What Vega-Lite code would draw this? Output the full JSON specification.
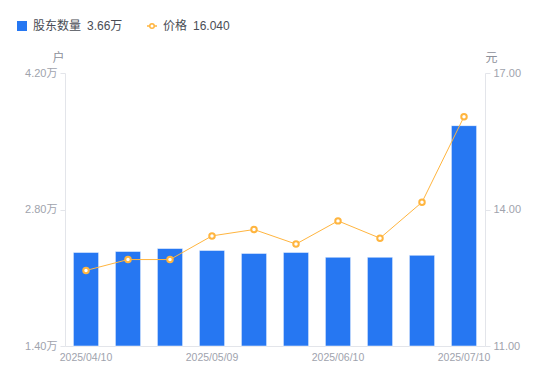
{
  "$schema": "https://vega.github.io/schema/vega-lite/v6.json",
  "width": 420,
  "height": 273,
  "autosize": {"type": "none"},
  "padding": {"left": 65, "top": 73, "right": 65, "bottom": 35},
  "background": "white",
  "config": {
    "font": "Liberation Sans, Noto Sans CJK SC",
    "view": {"stroke": null},
    "axis": {
      "grid": false,
      "domainColor": "#e3e5ea",
      "tickColor": "#e3e5ea",
      "labelColor": "#a0a3ad",
      "labelFontSize": 11,
      "titleColor": "#8d909a",
      "titleFontWeight": "normal",
      "titleFontSize": 12
    },
    "legend": {
      "orient": "none",
      "direction": "horizontal",
      "labelFontSize": 12,
      "labelColor": "#4a4d55",
      "labelOffset": 5,
      "padding": 0
    }
  },
  "data": {
    "values": [
      {"date": "2025/04/10", "holders": 2.36, "price": 12.66},
      {"date": "2025/04/18", "holders": 2.37, "price": 12.90},
      {"date": "2025/04/30", "holders": 2.40, "price": 12.90},
      {"date": "2025/05/09", "holders": 2.38, "price": 13.42},
      {"date": "2025/05/20", "holders": 2.35, "price": 13.56},
      {"date": "2025/05/30", "holders": 2.36, "price": 13.24},
      {"date": "2025/06/10", "holders": 2.31, "price": 13.75},
      {"date": "2025/06/20", "holders": 2.31, "price": 13.37},
      {"date": "2025/06/30", "holders": 2.33, "price": 14.16},
      {"date": "2025/07/10", "holders": 3.66, "price": 16.04}
    ]
  },
  "encoding": {
    "x": {
      "field": "date",
      "type": "ordinal",
      "scale": {"paddingInner": 0.4, "paddingOuter": 0.2},
      "axis": {
        "title": null,
        "labelAngle": 0,
        "ticks": false,
        "labelPadding": 6,
        "labelFontSize": 10.5,
        "values": ["2025/04/10", "2025/05/09", "2025/06/10", "2025/07/10"]
      }
    }
  },
  "layer": [
    {
      "mark": {"type": "bar", "stroke": "white", "strokeOpacity": 0.5, "strokeWidth": 1},
      "encoding": {
        "y": {
          "field": "holders",
          "type": "quantitative",
          "scale": {"domain": [1.4, 4.2], "zero": false, "nice": false, "clamp": true},
          "axis": {
            "values": [1.4, 2.8, 4.2],
            "labelExpr": "format(datum.value, '.2f') + '万'",
            "title": "户",
            "titleAngle": 0,
            "titleAlign": "center",
            "titleBaseline": "middle",
            "titleX": -7,
            "titleY": -16,
            "tickSize": 5,
            "labelPadding": 3
          }
        },
        "color": {
          "datum": "股东数量",
          "scale": {"range": ["#2677f2"]},
          "legend": {
            "title": null,
            "legendX": -49,
            "legendY": -53,
            "symbolType": "square",
            "symbolSize": 100,
            "symbolStrokeWidth": 0,
            "labelExpr": "datum.label + '\u2002' + '3.66万'"
          }
        }
      }
    },
    {
      "encoding": {
        "y": {
          "field": "price",
          "type": "quantitative",
          "scale": {"domain": [11, 17], "zero": false, "nice": false},
          "axis": {
            "orient": "right",
            "values": [11, 14, 17],
            "format": ".2f",
            "title": "元",
            "titleAngle": 0,
            "titleAlign": "center",
            "titleBaseline": "middle",
            "titleX": 6,
            "titleY": -16,
            "tickSize": 5,
            "labelPadding": 3
          }
        },
        "stroke": {
          "datum": "价格",
          "scale": {"range": ["#ffb53f"]},
          "legend": {
            "title": null,
            "legendX": 81,
            "legendY": -53,
            "symbolType": "M-1,0L-0.45,0M0.45,0L1,0M-0.45,0A0.45,0.45,0,1,1,0.45,0A0.45,0.45,0,1,1,-0.45,0",
            "symbolSize": 100,
            "symbolStrokeWidth": 1.5,
            "symbolFillColor": "white",
            "labelExpr": "datum.label + '\u2002' + '16.040'"
          }
        }
      },
      "layer": [
        {"mark": {"type": "line", "strokeWidth": 1}},
        {"mark": {"type": "point", "filled": false, "fill": "white", "fillOpacity": 1, "size": 30, "strokeWidth": 2, "opacity": 1}}
      ]
    }
  ],
  "resolve": {"scale": {"y": "independent"}}
}
